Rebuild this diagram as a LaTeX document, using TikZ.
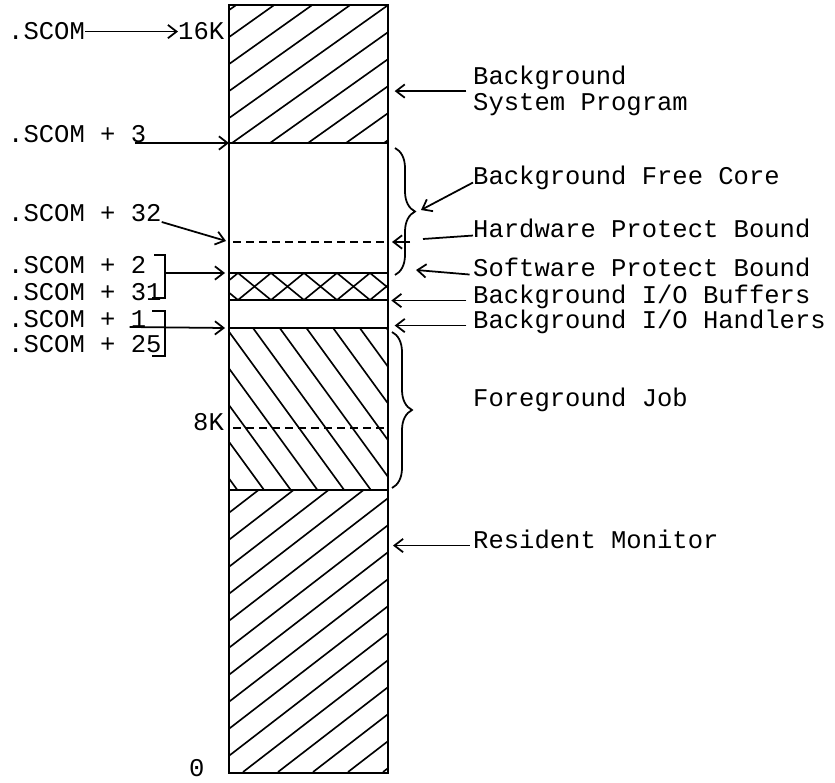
\documentclass[tikz,border=0pt]{standalone}
\usepackage{fontspec}
\newfontfamily\typew{Liberation Mono}
\usetikzlibrary{arrows.meta,decorations.pathreplacing}

\begin{document}
\begin{tikzpicture}[x=0.3mm, y=-0.3mm,
    lbl/.style={font=\typew\fontsize{21.8}{22.1}\selectfont, inner sep=0pt, anchor=base west},
    tag/.style={lbl, text height=0.62em, text depth=0.2em},
    arr/.style={line width=1.5pt, -{Straight Barb[length=2.6mm,width=4mm,line width=1.5pt]}},
    wall/.style={line width=2pt},
    hatch/.style={line width=1.4pt},
    bnd/.style={line width=1.3pt, dash pattern=on 2.4mm off 1.5mm},
    brc/.style={line width=1.5pt, decorate, decoration={brace, amplitude=6mm}}]

  \useasboundingbox (0,0) rectangle (835,783);

  % ── memory column: corners and region bounds ──
  \coordinate (tl) at (229,5);
  \coordinate (br) at (388,773);
  \coordinate (hwl) at (226,241);
  \coordinate (hwr) at (392,242);
  \coordinate (swl) at (225,273);
  \coordinate (hdl) at (225,328);
  \coordinate (fctip) at (421,210);
  \coordinate (hpmid) at (423,239);
  \coordinate (hpin) at (410,242);
  \coordinate (sptip) at (416,270);

  % ── hatching ──
  \begin{scope}
    \clip (229,5) rectangle (388,143);
    \foreach \k in {-6,...,3} \draw[hatch] (270+38*\k,143) -- ++(380,-270);
  \end{scope}
  \begin{scope}
    \clip (229,273) rectangle (388,300);
    \foreach \k in {-1,...,4} {
      \draw[hatch] (238+33*\k,273) -- ++(33,27);
      \draw[hatch] (238+33*\k,300) -- ++(33,-27);
    }
  \end{scope}
  \begin{scope}
    \clip (229,328) rectangle (388,490);
    \foreach \k in {-6,...,5} \draw[hatch] (253+26.7*\k,328) -- ++(267,367);
  \end{scope}
  \begin{scope}
    \clip (229,490) rectangle (388,773);
    \foreach \k in {-11,...,4} \draw[hatch] (243+35*\k,772) -- ++(420,-324);
  \end{scope}

  % ── outline, region lines, bounds ──
  \draw[wall] (tl) rectangle (br);
  \foreach \y in {143,273,300,328,490} \draw[wall] (229,\y) -- (388,\y);
  \draw[bnd] (233,242) -- (388,242);
  \draw[bnd] (233,428) -- (385,428);

  % ── left labels ──
  \node[lbl] (scom) at (8,40)  {.SCOM};
  \node[lbl] (k16)  at (178,40) {16K};
  \node[lbl] (s3)   at (8,143) {.SCOM + 3};
  \node[lbl] (s32)  at (8,222) {.SCOM + 32};
  \node[lbl] (s2)   at (8,273) {.SCOM + 2};
  \node[lbl] (s31)  at (8,300) {.SCOM + 31};
  \node[lbl] (s1)   at (8,327) {.SCOM + 1};
  \node[lbl] (s25)  at (8,352) {.SCOM + 25};
  \node[lbl] (k8)   at (193,430) {8K};
  \node[lbl] (k0)   at (189,776) {0};

  \draw[arr] (scom.east) -- (k16.west);
  \draw[arr] ([xshift=-3.5mm]s3.base east) -- (s3.base east -| tl);
  \draw[arr] (s32.base east) -- (hwl);
  \draw[line width=1.5pt] (154,255) -- (165,255) coordinate (b1a) -- (165,298) -- (152,298);
  \draw[line width=1.5pt] (152,311) -- (165,311) -- (165,356) -- (152,356);
  \draw[arr] (b1a |- swl) -- (swl);
  \draw[arr] ([xshift=-5mm]s1.base east) -- (hdl);

  % ── right labels ──
  \node[lbl, anchor=north west, align=left] (bsp) at (473,66) {Background\\System Program};
  \node[tag] (bfc)  at (473,185) {Background Free Core};
  \node[tag] (hpb)  at (473,238) {Hardware Protect Bound};
  \node[tag] (spb)  at (473,277) {Software Protect Bound};
  \node[tag] (bio)  at (473,303) {Background I/O Buffers};
  \node[tag] (bioh) at (473,328) {Background I/O Handlers};
  \node[tag] (fj)   at (473,406) {Foreground Job};
  \node[tag] (rm)   at (473,548) {Resident Monitor};

  \draw[brc] (395,148) -- (395,275);
  \draw[brc] (392,332) -- (392,488);

  \draw[arr] ([xshift=-2mm]bsp.west) -- ([xshift=2mm]bsp.west -| br);
  \draw[arr] (bfc.west) -- (fctip);
  \draw[line width=1.5pt] (hpb.west) -- (hpmid);
  \draw[arr] (hpin) -- (hwr);
  \draw[arr] ([xshift=-1mm]spb.west) -- (sptip);
  \draw[arr] ([xshift=-2mm]bio.west) -- ([xshift=1mm]bio.west -| br);
  \draw[arr] ([xshift=-2mm]bioh.west) -- ([xshift=2mm]bioh.west -| br);
  \draw[arr] ([xshift=-1mm]rm.west) -- ([xshift=1.5mm]rm.west -| br);
\end{tikzpicture}
\end{document}
